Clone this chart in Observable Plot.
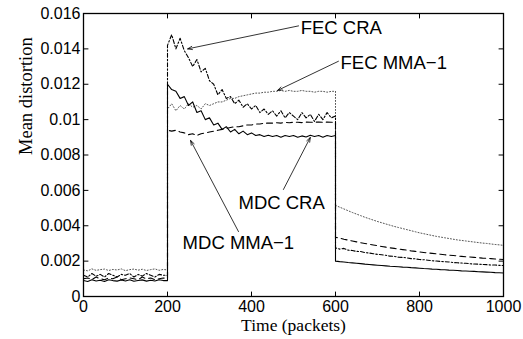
<!DOCTYPE html>
<html><head><meta charset="utf-8">
<script src="https://cdn.jsdelivr.net/npm/d3@7"></script>
<script src="https://cdn.jsdelivr.net/npm/@observablehq/plot@0.6"></script>
<style>body{margin:0;background:#fff}</style>
</head><body><div id="chart"></div>
<script>
// time in packets (vertical jumps at 200 and 600 are repeated points)
const time = [0,10,20,30,40,50,60,70,80,90,100,110,120,130,140,150,160,170,180,190,200,
200,210,220,230,240,250,260,270,280,290,300,310,320,330,340,350,360,370,380,390,400,410,420,430,440,450,460,470,480,490,500,510,520,530,540,550,560,570,580,590,600,
600,610,620,630,640,650,660,670,680,690,700,710,720,730,740,750,760,770,780,790,800,810,820,830,840,850,860,870,880,890,900,910,920,930,940,950,960,970,980,990,1000];

// mean distortion, in units of 1e-3
const fecMMA = [1.50,1.45,1.56,1.48,1.52,1.55,1.47,1.53,1.50,1.56,1.46,1.52,1.55,1.49,1.54,1.47,1.52,1.56,1.48,1.53,1.50,
10.6,10.9,10.5,10.8,10.6,10.9,10.7,10.8,10.6,10.9,10.8,10.9,11.0,11.0,11.1,11.2,11.2,11.3,11.35,11.4,11.45,11.5,11.5,11.55,11.55,11.6,11.6,11.65,11.6,11.65,11.6,11.6,11.65,11.6,11.6,11.55,11.6,11.6,11.55,11.6,11.6,
5.15,5.05,4.95,4.85,4.75,4.66,4.57,4.48,4.40,4.32,4.24,4.17,4.10,4.03,3.96,3.90,3.84,3.78,3.72,3.66,3.60,3.55,3.50,3.45,3.40,3.36,3.32,3.28,3.24,3.20,3.17,3.14,3.11,3.08,3.05,3.02,3.00,2.97,2.94,2.92,2.89];

const fecCRA = [1.20,1.10,1.30,1.15,1.25,1.10,1.30,1.20,1.10,1.25,1.20,1.30,1.10,1.25,1.15,1.30,1.20,1.10,1.25,1.20,1.20,
14.2,14.8,14.0,14.6,13.9,13.5,13.0,13.4,12.7,12.9,12.2,12.0,11.4,11.7,11.2,11.3,10.9,11.1,10.7,10.9,10.6,10.8,10.4,10.6,10.3,10.5,10.2,10.5,10.1,10.4,10.2,10.0,10.4,10.1,10.3,9.9,10.3,10.0,10.4,10.1,10.2,
2.75,2.68,2.72,2.62,2.60,2.55,2.54,2.48,2.46,2.42,2.38,2.36,2.33,2.28,2.27,2.22,2.21,2.18,2.14,2.13,2.09,2.08,2.05,2.02,2.01,1.98,1.97,1.95,1.92,1.91,1.89,1.88,1.85,1.84,1.83,1.81,1.80,1.78,1.78,1.76,1.75];

const mdcMMA = [1.00,1.05,0.95,1.10,1.00,0.95,1.05,1.00,1.10,0.95,1.00,1.05,1.00,0.95,1.10,1.00,1.05,0.95,1.00,1.05,1.00,
9.40,9.35,9.40,9.30,9.25,9.15,9.20,9.10,9.20,9.25,9.30,9.35,9.40,9.45,9.50,9.55,9.60,9.60,9.65,9.70,9.70,9.75,9.75,9.80,9.80,9.80,9.82,9.80,9.85,9.82,9.85,9.85,9.83,9.86,9.85,9.85,9.87,9.85,9.86,9.85,9.85,
3.35,3.30,3.24,3.19,3.14,3.09,3.04,3.00,2.95,2.91,2.87,2.83,2.79,2.75,2.72,2.68,2.65,2.62,2.58,2.55,2.52,2.49,2.46,2.44,2.41,2.39,2.36,2.34,2.32,2.29,2.27,2.25,2.23,2.21,2.19,2.17,2.16,2.14,2.12,2.11,2.09];

const mdcCRA = [0.90,0.85,0.95,0.88,0.92,0.85,0.95,0.90,0.87,0.93,0.88,0.95,0.86,0.90,0.94,0.87,0.92,0.88,0.95,0.90,0.90,
12.0,11.7,11.6,11.2,11.3,10.8,11.0,10.4,10.5,10.0,10.1,9.7,9.8,9.45,9.6,9.3,9.45,9.2,9.35,9.15,9.25,9.1,9.15,9.05,9.12,9.05,9.1,9.0,9.1,9.05,9.1,9.0,9.08,9.02,9.12,9.05,9.1,9.0,9.1,9.05,9.1,
2.00,1.97,1.95,1.92,1.90,1.88,1.86,1.83,1.81,1.79,1.77,1.75,1.73,1.71,1.70,1.68,1.66,1.65,1.63,1.62,1.60,1.58,1.57,1.55,1.54,1.52,1.51,1.49,1.48,1.47,1.45,1.44,1.43,1.42,1.40,1.39,1.38,1.37,1.35,1.34,1.33];

const xTicks = [0,200,400,600,800,1000];
const xTickLabels = ["0","200","400","600","800","1000"];
const yTicks = [0,0.002,0.004,0.006,0.008,0.01,0.012,0.014,0.016];
const yTickLabels = ["0","0.002","0.004","0.006","0.008","0.01","0.012","0.014","0.016"];

// annotation labels: text anchor (left), arrow tail and tip, in data units (y ×1e-3)
const annLabels = ["FEC CRA","FEC MMA\u22121","MDC CRA","MDC MMA\u22121"];
const annTextX = [517,612,369,236];
const annTextY = [15.15,13.17,5.31,3.0];
const annTailX = [512,607,476,369];
const annTailY = [15.3,13.3,6.05,3.67];
const annTipX = [248,462,540,255];
const annTipY = [14.0,11.65,8.99,8.82];

const rowsOf = vals => time.map((t, i) => ({t, v: vals[i] / 1000}));
const ann = annLabels.map((label, i) => ({label, tx: annTextX[i], ty: annTextY[i]/1000,
  x1: annTailX[i], y1: annTailY[i]/1000, x2: annTipX[i], y2: annTipY[i]/1000}));
const xLab = new Map(xTicks.map((d, i) => [d, xTickLabels[i]]));
const yLab = new Map(yTicks.map((d, i) => [d, yTickLabels[i]]));

const sans = "Liberation Sans, Arial, Helvetica, sans-serif";
const serif = "Liberation Serif, Times New Roman, serif";
const tickShape = {draw(ctx, l) { ctx.moveTo(0, 0); ctx.lineTo(0, -l); }};
const tk = {length: 4.5, anchor: "start", shape: tickShape, stroke: "black", strokeWidth: 1};

const chart = Plot.plot({
  width: 523, height: 339,
  marginLeft: 83, marginRight: 20, marginTop: 13, marginBottom: 43,
  style: {fontFamily: sans, background: "white", color: "black"},
  x: {domain: [0, 1000]},
  y: {domain: [0, 0.016]},
  marks: [
    Plot.line(rowsOf(fecMMA), {x: "t", y: "v", stroke: "#555", strokeWidth: 1, strokeDasharray: "1,2"}),
    Plot.line(rowsOf(mdcMMA), {x: "t", y: "v", stroke: "black", strokeWidth: 1.1, strokeDasharray: "6,4"}),
    Plot.line(rowsOf(fecCRA), {x: "t", y: "v", stroke: "black", strokeWidth: 1.1, strokeDasharray: "4,2,1.5,2"}),
    Plot.line(rowsOf(mdcCRA), {x: "t", y: "v", stroke: "black", strokeWidth: 1.1}),
    Plot.frame({stroke: "black", strokeWidth: 1.3}),
    Plot.vector(xTicks, {x: d => d, frameAnchor: "bottom", rotate: 0, ...tk}),
    Plot.vector(xTicks, {x: d => d, frameAnchor: "top", rotate: 180, ...tk}),
    Plot.vector(yTicks, {y: d => d, frameAnchor: "left", rotate: 90, ...tk}),
    Plot.vector(yTicks, {y: d => d, frameAnchor: "right", rotate: -90, ...tk}),
    Plot.axisX(xTicks, {tickSize: 0, tickPadding: 4, fontSize: 16, fontFamily: sans, tickFormat: d => xLab.get(d), label: null}),
    Plot.axisY(yTicks, {tickSize: 0, tickPadding: 3, fontSize: 16, fontFamily: sans, tickFormat: d => yLab.get(d), label: null}),
    Plot.text(["Time (packets)"], {frameAnchor: "bottom", dy: 34, fontSize: 17.5, fontFamily: serif, fill: "black"}),
    Plot.text(["Mean distortion"], {frameAnchor: "left", dx: -57, rotate: -90, fontSize: 18.5, fontFamily: serif, fill: "black"}),
    Plot.arrow(ann, {x1: "x1", y1: "y1", x2: "x2", y2: "y2", stroke: "black", strokeWidth: 0.8, headLength: 9, headAngle: 40}),
    Plot.text(ann, {x: "tx", y: "ty", text: "label", textAnchor: "start", fontSize: 18.5, fontFamily: sans, fill: "black"})
  ]
});
document.getElementById("chart").appendChild(chart);
</script>
</body></html>
